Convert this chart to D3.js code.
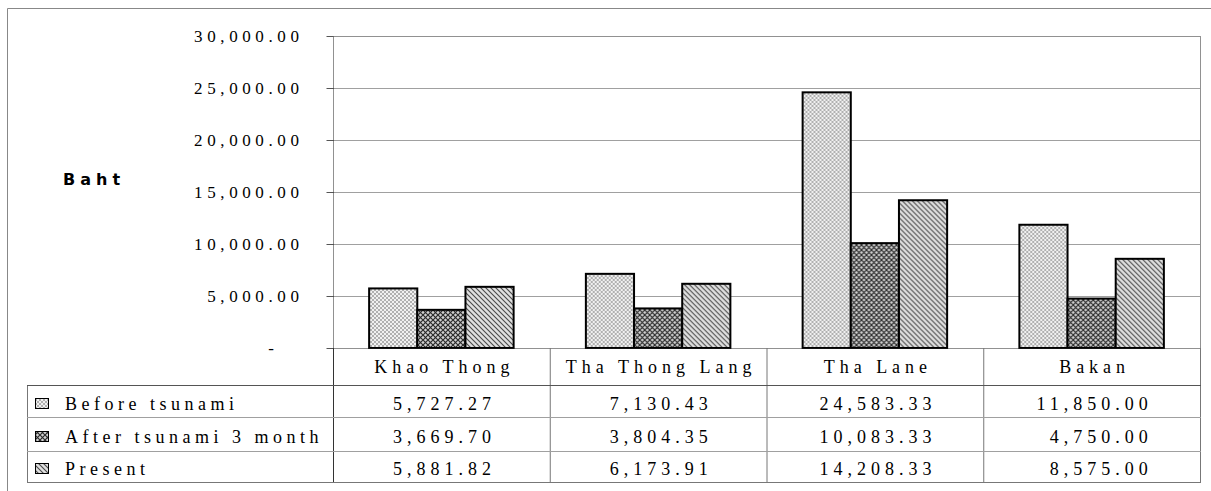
<!DOCTYPE html>
<html>
<head>
<meta charset="utf-8">
<script src="https://cdn.jsdelivr.net/npm/d3@7"></script>
<style>
  body { margin: 0; background: #fff; }
  svg text { font-family: "Liberation Serif", "Tinos", "Times New Roman", serif; fill: #000; }
</style>
</head>
<body>
<div id="chart"></div>
<script>
// data
let categories = ["Khao Thong", "Tha Thong Lang", "Tha Lane", "Bakan"];
let seriesNames = ["Before tsunami", "After tsunami 3 month", "Present"];
let beforeTsunami = [5727.27, 7130.43, 24583.33, 11850.00];
let afterTsunami = [3669.70, 3804.35, 10083.33, 4750.00];
let present = [5881.82, 6173.91, 14208.33, 8575.00];
let yTicks = [0, 5000, 10000, 15000, 20000, 25000, 30000];

let seriesValues = [beforeTsunami, afterTsunami, present];
let patternIds = ["pat-before", "pat-after", "pat-present"];

let width = 1211, height = 491;
let plot = {left: 333, right: 1200, top: 36, bottom: 348};
let tableLeft = 27, rowLines = [385, 417, 451, 482];
let rowBaselines = [410, 443, 475];
let serif = "'Liberation Serif', 'Tinos', 'Times New Roman', serif";
let fmt = d3.format(",.2f");

let svg = d3.select("#chart").append("svg")
    .attr("width", width)
    .attr("height", height);

// fill patterns (black & white print style)
let defs = svg.append("defs");
let p1 = defs.append("pattern").attr("id", "pat-before")
    .attr("patternUnits", "userSpaceOnUse").attr("width", 4).attr("height", 4);
p1.append("rect").attr("width", 4).attr("height", 4).attr("fill", "#f0f0f0");
p1.append("path").attr("d", "M0,0 L4,4 M4,0 L0,4").attr("stroke", "#a0a0a0").attr("stroke-width", 0.8);

let p2 = defs.append("pattern").attr("id", "pat-after")
    .attr("patternUnits", "userSpaceOnUse").attr("width", 5).attr("height", 5);
p2.append("rect").attr("width", 5).attr("height", 5).attr("fill", "#d0d0d0");
p2.append("path").attr("d", "M0,0 L5,5 M5,0 L0,5").attr("stroke", "#2a2a2a").attr("stroke-width", 1.2);

let p3 = defs.append("pattern").attr("id", "pat-present")
    .attr("patternUnits", "userSpaceOnUse").attr("width", 5).attr("height", 5);
p3.append("rect").attr("width", 5).attr("height", 5).attr("fill", "#e0e0e0");
p3.append("path").attr("d", "M-1,-1 L6,6 M-1,4 L1,6 M4,-1 L6,1").attr("stroke", "#4a4a4a").attr("stroke-width", 1.1);

// outer frame
svg.append("line").attr("x1", 7.5).attr("x2", width).attr("y1", 8.5).attr("y2", 8.5)
    .attr("stroke", "#888");
svg.append("line").attr("x1", 7.5).attr("x2", 7.5).attr("y1", 8.5).attr("y2", height)
    .attr("stroke", "#888");

let x0 = d3.scaleBand().domain(categories).range([plot.left, plot.right]).padding(0);
let x1 = d3.scaleBand().domain(seriesNames).range([0, x0.bandwidth()])
    .paddingInner(0).paddingOuter(0.75);
let y = d3.scaleLinear().domain([0, 30000]).range([plot.bottom, plot.top]);

// gridlines
svg.append("g").selectAll("line")
    .data(yTicks.filter(d => d > 0 && d < 30000))
    .enter().append("line")
    .attr("x1", plot.left).attr("x2", plot.right)
    .attr("y1", d => Math.round(y(d)) + 0.5).attr("y2", d => Math.round(y(d)) + 0.5)
    .attr("stroke", "#a0a0a0");

// y axis
let yAxis = d3.axisLeft(y).tickValues(yTicks).tickSize(7).tickPadding(23)
    .tickFormat(d => d === 0 ? "-" : fmt(d));
let gy = svg.append("g").attr("transform", `translate(${plot.left + 0.5},0)`).call(yAxis);
gy.attr("font-family", null);
gy.select(".domain").remove();
gy.selectAll(".tick line").attr("stroke", "#555");
gy.selectAll(".tick text")
    .style("font-family", serif)
    .style("font-size", "17px")
    .style("letter-spacing", "4.6px")
    .attr("fill", "#000");
gy.selectAll(".tick text").filter(d => d === 0).attr("dx", "-25");

// axis title
svg.append("text").attr("x", 63).attr("y", 185)
    .style("font-family", "'DejaVu Sans', Verdana, sans-serif")
    .style("font-weight", "bold")
    .style("font-size", "16px")
    .style("letter-spacing", "5px")
    .text("Baht");

// bars
let groups = svg.append("g").selectAll("g")
    .data(categories)
    .enter().append("g")
    .attr("transform", d => `translate(${x0(d)},0)`);
groups.selectAll("rect")
    .data((d, i) => seriesNames.map((s, j) => ({s: s, j: j, v: seriesValues[j][i]})))
    .enter().append("rect")
    .attr("x", d => x1(d.s))
    .attr("y", d => y(d.v))
    .attr("width", x1.bandwidth())
    .attr("height", d => y(0) - y(d.v))
    .attr("fill", d => `url(#${patternIds[d.j]})`)
    .attr("stroke", "#000")
    .attr("stroke-width", 2);

// plot area border (dotted)
svg.append("rect")
    .attr("x", plot.left + 0.5).attr("y", plot.top + 0.5)
    .attr("width", plot.right - plot.left).attr("height", plot.bottom - plot.top)
    .attr("fill", "none").attr("stroke", "#222").attr("stroke-dasharray", "1,1");

// data table
let table = svg.append("g");
categories.concat(["_end"]).forEach((c, i) => {
    let xx = (i < categories.length ? x0(c) : plot.right) + 0.5;
    table.append("line").attr("x1", xx).attr("x2", xx)
        .attr("y1", plot.bottom).attr("y2", rowLines[3])
        .attr("stroke", i === 0 ? "#333" : "#777");
});
table.append("line").attr("x1", tableLeft + 0.5).attr("x2", tableLeft + 0.5)
    .attr("y1", rowLines[0]).attr("y2", rowLines[3]).attr("stroke", "#777");
rowLines.forEach((ry, i) => {
    table.append("line").attr("x1", tableLeft).attr("x2", plot.right + 1)
        .attr("y1", ry + 0.5).attr("y2", ry + 0.5)
        .attr("stroke", i === 0 ? "#555" : (i === 3 ? "#777" : "#a0a0a0"));
});

// category header row
table.selectAll(".cat").data(categories).enter().append("text")
    .attr("class", "cat")
    .attr("x", d => x0(d) + x0.bandwidth() / 2 + 3)
    .attr("y", 373)
    .attr("text-anchor", "middle")
    .style("font-family", serif)
    .style("font-size", "18px")
    .style("letter-spacing", "5px")
    .text(d => d);

// legend keys + labels
seriesNames.forEach((s, j) => {
    let base = rowBaselines[j];
    table.append("rect")
        .attr("x", 35.5).attr("y", base - 11.5)
        .attr("width", 13).attr("height", 10)
        .attr("fill", `url(#${patternIds[j]})`)
        .attr("stroke", "#000");
    table.append("text")
        .attr("x", 65).attr("y", base)
        .style("font-family", serif)
        .style("font-size", "18px")
        .style("letter-spacing", "4.5px")
        .text(s);
});

// values: one number format per column, so shorter numbers right-align to the widest
categories.forEach((c, i) => {
    let cells = table.selectAll(".col" + i)
        .data(seriesValues.map(v => v[i]))
        .enter().append("text")
        .attr("class", "col" + i)
        .attr("y", (d, j) => rowBaselines[j])
        .attr("text-anchor", "end")
        .style("font-family", serif)
        .style("font-size", "18px")
        .style("letter-spacing", "5px")
        .text(d => fmt(d));
    let maxW = d3.max(cells.nodes(), n => n.getComputedTextLength());
    cells.attr("x", x0(c) + x0.bandwidth() / 2 + maxW / 2 + 3);
});
</script>
</body>
</html>
